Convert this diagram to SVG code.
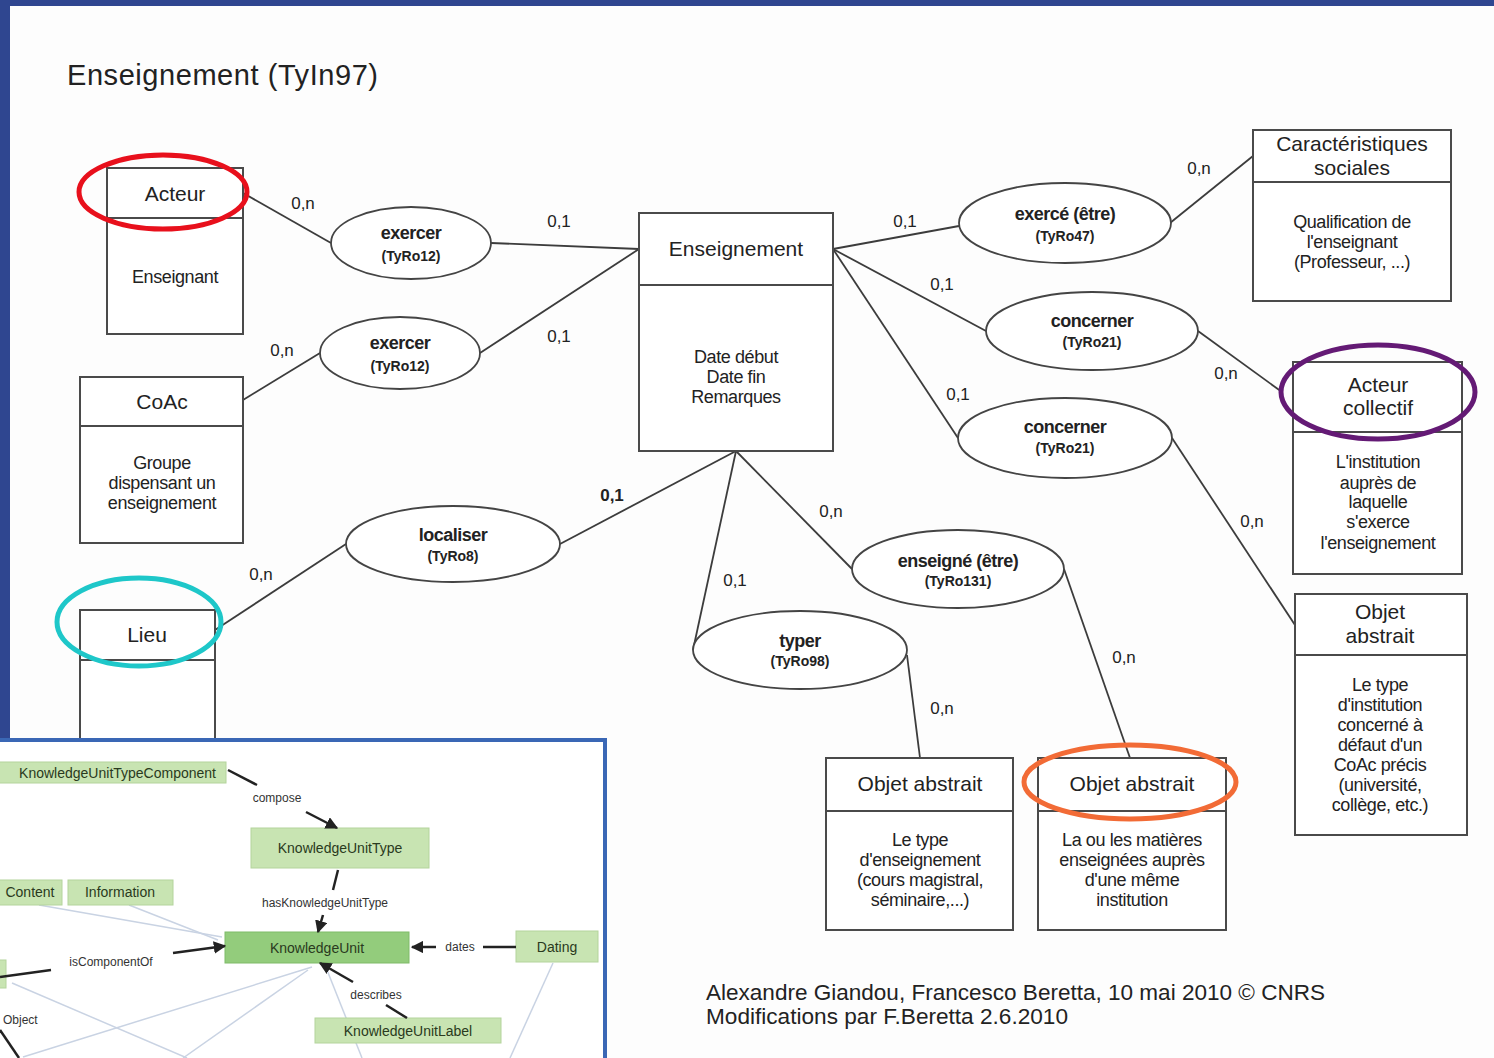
<svg xmlns="http://www.w3.org/2000/svg" width="1494" height="1058" viewBox="0 0 1494 1058">
<style>
.bg{fill:#fdfdfd}
.ent{fill:#ffffff;stroke:#4a4a4a;stroke-width:2}
.div{stroke:#4a4a4a;stroke-width:2}
.rel{fill:#ffffff;stroke:#444;stroke-width:1.8}
.con{stroke:#3c3c3c;stroke-width:1.8;fill:none}
.hd{font-family:"Liberation Sans",Arial,sans-serif;font-size:21px;fill:#222;text-anchor:middle}
.bd{font-family:"Liberation Sans",Arial,sans-serif;font-size:18px;fill:#222;text-anchor:middle;letter-spacing:-0.4px}
.r1{font-family:"Liberation Sans",Arial,sans-serif;font-size:18px;font-weight:bold;fill:#222;text-anchor:middle;letter-spacing:-0.5px}
.r2{font-family:"Liberation Sans",Arial,sans-serif;font-size:14px;font-weight:bold;fill:#222;text-anchor:middle}
.card{font-family:"Liberation Sans",Arial,sans-serif;font-size:17px;fill:#222;text-anchor:middle}
.hl{fill:none;stroke-width:5}
.kbox{fill:#c8e4b2;stroke:#b4d49c;stroke-width:1}
.kt{font-family:"Liberation Sans",Arial,sans-serif;font-size:14px;fill:#2a3a20;text-anchor:middle}
.kl{font-family:"Liberation Sans",Arial,sans-serif;font-size:12px;fill:#333;text-anchor:middle}
.kline{stroke:#222;stroke-width:2.5;fill:none}
.faint{stroke:#c9d3e3;stroke-width:1.5;fill:none}
</style>
<defs>
<marker id="ah" viewBox="0 0 10 10" refX="9" refY="5" markerWidth="5" markerHeight="5" orient="auto">
<path d="M0,0 L10,5 L0,10 z" fill="#222"/>
</marker>
</defs>
<rect class="bg" x="0" y="0" width="1494" height="1058"/>
<rect x="0" y="0" width="1494" height="6" fill="#2f4690"/>
<rect x="0" y="0" width="10" height="740" fill="#2f4690"/>

<text x="67" y="85" font-family="Liberation Sans, Arial, sans-serif" font-size="29" fill="#222" textLength="311">Enseignement (TyIn97)</text>

<g id="connectors">
<line class="con" x1="243" y1="193" x2="331" y2="243"/>
<line class="con" x1="491" y1="243" x2="639" y2="249"/>
<line class="con" x1="243" y1="400" x2="320" y2="353"/>
<line class="con" x1="480" y1="353" x2="639" y2="249"/>
<line class="con" x1="215" y1="630" x2="346" y2="544"/>
<line class="con" x1="560" y1="544" x2="736" y2="451"/>
<line class="con" x1="833" y1="249" x2="959" y2="226"/>
<line class="con" x1="1170" y1="223" x2="1253" y2="156"/>
<line class="con" x1="833" y1="249" x2="986" y2="331"/>
<line class="con" x1="1198" y1="331" x2="1282" y2="392"/>
<line class="con" x1="833" y1="249" x2="958" y2="438"/>
<line class="con" x1="1172" y1="438" x2="1295" y2="625"/>
<line class="con" x1="736" y1="451" x2="852" y2="569"/>
<line class="con" x1="736" y1="451" x2="693" y2="650"/>
<line class="con" x1="907" y1="655" x2="920" y2="758"/>
<line class="con" x1="1064" y1="569" x2="1130" y2="758"/>
<text class="card" x="303" y="209">0,n</text>
<text class="card" x="559" y="227">0,1</text>
<text class="card" x="282" y="356">0,n</text>
<text class="card" x="559" y="342">0,1</text>
<text class="card" x="261" y="580">0,n</text>
<text class="card" x="612" y="501" font-weight="bold">0,1</text>
<text class="card" x="905" y="227">0,1</text>
<text class="card" x="1199" y="174">0,n</text>
<text class="card" x="942" y="290">0,1</text>
<text class="card" x="1226" y="379">0,n</text>
<text class="card" x="958" y="400">0,1</text>
<text class="card" x="1252" y="527">0,n</text>
<text class="card" x="831" y="517">0,n</text>
<text class="card" x="735" y="586">0,1</text>
<text class="card" x="942" y="714">0,n</text>
<text class="card" x="1124" y="663">0,n</text>
</g>

<g id="acteur">
<rect class="ent" x="107" y="168" width="136" height="166"/>
<line class="div" x1="107" y1="218" x2="243" y2="218"/>
<text class="hd" x="175" y="201">Acteur</text>
<text class="bd" x="175" y="283">Enseignant</text>
<ellipse class="hl" cx="163" cy="192" rx="84" ry="37" stroke="#e8101c"/>
</g>

<g id="coac">
<rect class="ent" x="80" y="377" width="163" height="166"/>
<line class="div" x1="80" y1="426" x2="243" y2="426"/>
<text class="hd" x="162" y="409">CoAc</text>
<text class="bd" x="162" y="469">Groupe</text>
<text class="bd" x="162" y="489">dispensant un</text>
<text class="bd" x="162" y="509">enseignement</text>
</g>

<g id="lieu">
<rect class="ent" x="80" y="610" width="135" height="160"/>
<line class="div" x1="80" y1="660" x2="215" y2="660"/>
<text class="hd" x="147" y="642">Lieu</text>
<ellipse class="hl" cx="139" cy="622" rx="82" ry="44" stroke="#1ec7c9"/>
</g>

<g id="enseignement">
<rect class="ent" x="639" y="213" width="194" height="238"/>
<line class="div" x1="639" y1="285" x2="833" y2="285"/>
<text class="hd" x="736" y="256">Enseignement</text>
<text class="bd" x="736" y="363">Date début</text>
<text class="bd" x="736" y="383">Date fin</text>
<text class="bd" x="736" y="403">Remarques</text>
</g>

<g id="caracteristiques">
<rect class="ent" x="1253" y="130" width="198" height="171"/>
<line class="div" x1="1253" y1="182" x2="1451" y2="182"/>
<text class="hd" x="1352" y="151">Caractéristiques</text>
<text class="hd" x="1352" y="175">sociales</text>
<text class="bd" x="1352" y="228">Qualification de</text>
<text class="bd" x="1352" y="248">l'enseignant</text>
<text class="bd" x="1352" y="268">(Professeur, ...)</text>
</g>

<g id="acteur-collectif">
<rect class="ent" x="1293" y="362" width="169" height="212"/>
<line class="div" x1="1293" y1="432" x2="1462" y2="432"/>
<text class="hd" x="1378" y="392">Acteur</text>
<text class="hd" x="1378" y="415">collectif</text>
<text class="bd" x="1378" y="468">L'institution</text>
<text class="bd" x="1378" y="489">auprès de</text>
<text class="bd" x="1378" y="508">laquelle</text>
<text class="bd" x="1378" y="528">s'exerce</text>
<text class="bd" x="1378" y="549">l'enseignement</text>
<ellipse class="hl" cx="1378" cy="392" rx="97" ry="47" stroke="#641a75"/>
</g>

<g id="objet-abstrait-droite">
<rect class="ent" x="1295" y="594" width="172" height="241"/>
<line class="div" x1="1295" y1="655" x2="1467" y2="655"/>
<text class="hd" x="1380" y="619">Objet</text>
<text class="hd" x="1380" y="643">abstrait</text>
<text class="bd" x="1380" y="691">Le type</text>
<text class="bd" x="1380" y="711">d'institution</text>
<text class="bd" x="1380" y="731">concerné à</text>
<text class="bd" x="1380" y="751">défaut d'un</text>
<text class="bd" x="1380" y="771">CoAc précis</text>
<text class="bd" x="1380" y="791">(université,</text>
<text class="bd" x="1380" y="811">collège, etc.)</text>
</g>

<g id="objet-abstrait-type">
<rect class="ent" x="826" y="758" width="187" height="172"/>
<line class="div" x1="826" y1="811" x2="1013" y2="811"/>
<text class="hd" x="920" y="791">Objet abstrait</text>
<text class="bd" x="920" y="846">Le type</text>
<text class="bd" x="920" y="866">d'enseignement</text>
<text class="bd" x="920" y="886">(cours magistral,</text>
<text class="bd" x="920" y="906">séminaire,...)</text>
</g>

<g id="objet-abstrait-matieres">
<rect class="ent" x="1038" y="758" width="188" height="172"/>
<line class="div" x1="1038" y1="811" x2="1226" y2="811"/>
<text class="hd" x="1132" y="791">Objet abstrait</text>
<text class="bd" x="1132" y="846">La ou les matières</text>
<text class="bd" x="1132" y="866">enseignées auprès</text>
<text class="bd" x="1132" y="886">d'une même</text>
<text class="bd" x="1132" y="906">institution</text>
<ellipse class="hl" cx="1130" cy="782" rx="106" ry="37" stroke="#f26b36"/>
</g>

<g id="rel-exercer-1">
<ellipse class="rel" cx="411" cy="243" rx="80" ry="36"/>
<text class="r1" x="411" y="239">exercer</text>
<text class="r2" x="411" y="261">(TyRo12)</text>
</g>
<g id="rel-exercer-2">
<ellipse class="rel" cx="400" cy="353" rx="80" ry="36"/>
<text class="r1" x="400" y="349">exercer</text>
<text class="r2" x="400" y="371">(TyRo12)</text>
</g>
<g id="rel-localiser">
<ellipse class="rel" cx="453" cy="544" rx="107" ry="38"/>
<text class="r1" x="453" y="541">localiser</text>
<text class="r2" x="453" y="561">(TyRo8)</text>
</g>
<g id="rel-exerce">
<ellipse class="rel" cx="1065" cy="223" rx="106" ry="40"/>
<text class="r1" x="1065" y="220">exercé (être)</text>
<text class="r2" x="1065" y="241">(TyRo47)</text>
</g>
<g id="rel-concerner-1">
<ellipse class="rel" cx="1092" cy="331" rx="106" ry="39"/>
<text class="r1" x="1092" y="327">concerner</text>
<text class="r2" x="1092" y="347">(TyRo21)</text>
</g>
<g id="rel-concerner-2">
<ellipse class="rel" cx="1065" cy="438" rx="107" ry="40"/>
<text class="r1" x="1065" y="433">concerner</text>
<text class="r2" x="1065" y="453">(TyRo21)</text>
</g>
<g id="rel-enseigne">
<ellipse class="rel" cx="958" cy="569" rx="106" ry="39"/>
<text class="r1" x="958" y="567">enseigné (être)</text>
<text class="r2" x="958" y="586">(TyRo131)</text>
</g>
<g id="rel-typer">
<ellipse class="rel" cx="800" cy="650" rx="107" ry="39"/>
<text class="r1" x="800" y="647">typer</text>
<text class="r2" x="800" y="666">(TyRo98)</text>
</g>

<g id="footer">
<text x="706" y="1000" font-family="Liberation Sans, Arial, sans-serif" font-size="21.5" fill="#222" textLength="619" lengthAdjust="spacingAndGlyphs">Alexandre Giandou, Francesco Beretta, 10 mai 2010 © CNRS</text>
<text x="706" y="1024" font-family="Liberation Sans, Arial, sans-serif" font-size="21.5" fill="#222" textLength="362" lengthAdjust="spacingAndGlyphs">Modifications par F.Beretta 2.6.2010</text>
</g>

<g id="inset">
<rect x="-4" y="740" width="609" height="322" fill="#ffffff" stroke="#3a67b5" stroke-width="4"/>
<line class="faint" x1="39" y1="905" x2="222" y2="937"/>
<line class="faint" x1="129" y1="905" x2="218" y2="940"/>
<line class="faint" x1="312" y1="967" x2="23" y2="1057"/>
<line class="faint" x1="12" y1="983" x2="187" y2="1058"/>
<line class="faint" x1="308" y1="970" x2="183" y2="1058"/>
<line class="faint" x1="553" y1="963" x2="510" y2="1058"/>
<line class="faint" x1="327" y1="970" x2="362" y2="1058"/>
<g id="k-kutc">
<rect class="kbox" x="-2" y="762" width="228" height="21"/>
<text class="kt" x="216" y="778" style="text-anchor:end">KnowledgeUnitTypeComponent</text>
</g>
<g id="k-kut">
<rect class="kbox" x="251" y="828" width="178" height="40"/>
<text class="kt" x="340" y="853">KnowledgeUnitType</text>
</g>
<g id="k-content">
<rect class="kbox" x="-4" y="880" width="66" height="25" fill="#d7ebc8"/>
<text class="kt" x="30" y="897">Content</text>
</g>
<g id="k-information">
<rect class="kbox" x="68" y="880" width="105" height="25" fill="#d7ebc8"/>
<text class="kt" x="120" y="897">Information</text>
</g>
<g id="k-ku">
<rect x="225" y="932" width="184" height="31" fill="#93cc7c" stroke="#7fbb68" stroke-width="1"/>
<text class="kt" x="317" y="953" font-size="17" fill="#1f4a12">KnowledgeUnit</text>
</g>
<g id="k-dating">
<rect class="kbox" x="516" y="931" width="82" height="31"/>
<text class="kt" x="557" y="952">Dating</text>
</g>
<g id="k-object">
<rect class="kbox" x="-4" y="960" width="10" height="28" fill="#93cc7c"/>
<text class="kl" x="3" y="1024" style="text-anchor:start">Object</text>
</g>
<g id="k-kul">
<rect class="kbox" x="315" y="1018" width="186" height="25"/>
<text class="kt" x="408" y="1036">KnowledgeUnitLabel</text>
</g>
<g id="k-edges">
<line class="kline" x1="228" y1="770" x2="257" y2="785"/>
<text class="kl" x="277" y="802">compose</text>
<line class="kline" x1="306" y1="812" x2="337" y2="828" marker-end="url(#ah)"/>
<line class="kline" x1="338" y1="870" x2="333" y2="890"/>
<text class="kl" x="325" y="907">hasKnowledgeUnitType</text>
<line class="kline" x1="323" y1="915" x2="318" y2="932" marker-end="url(#ah)"/>
<line class="kline" x1="436" y1="947" x2="412" y2="947" marker-end="url(#ah)"/>
<text class="kl" x="460" y="951">dates</text>
<line class="kline" x1="483" y1="947" x2="516" y2="947"/>
<line class="kline" x1="0" y1="977" x2="51" y2="970"/>
<text class="kl" x="111" y="966">isComponentOf</text>
<line class="kline" x1="173" y1="953" x2="225" y2="946" marker-end="url(#ah)"/>
<line class="kline" x1="353" y1="982" x2="320" y2="963" marker-end="url(#ah)"/>
<text class="kl" x="376" y="999">describes</text>
<line class="kline" x1="386" y1="1005" x2="407" y2="1018"/>
<line class="kline" x1="0" y1="1030" x2="19" y2="1058"/>
</g>
</g>
</svg>
